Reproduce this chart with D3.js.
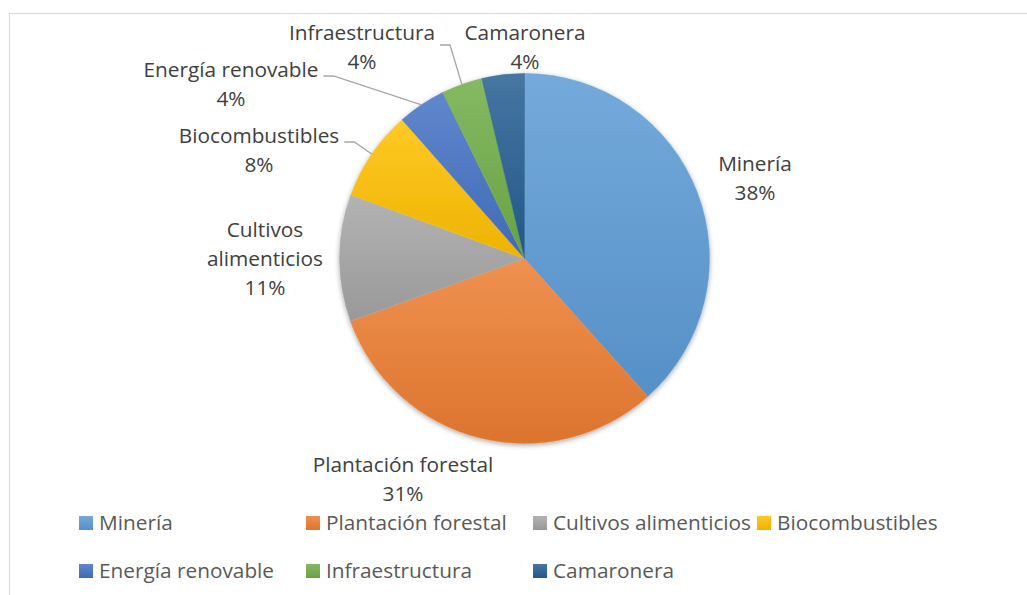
<!DOCTYPE html>
<html>
<head>
<meta charset="utf-8">
<script src="https://cdn.jsdelivr.net/npm/d3@7"></script>
<style>
  body { margin: 0; background: #fff; }
  text { font-family: "Open Sans", sans-serif; }
</style>
</head>
<body>
<div id="chart"></div>
<script>
"use strict";
// slice data, clockwise from 12 o'clock
var categories = ["Minería", "Plantación forestal", "Cultivos alimenticios", "Biocombustibles",
  "Energía renovable", "Infraestructura", "Camaronera"];
var values = [38.4, 31.1, 11.1, 7.9, 4.2, 3.6, 3.7];
var colors = ["#5B9BD5", "#ED7D31", "#A5A5A5", "#FFC000", "#4472C4", "#70AD47", "#255E91"];

// data label layout: lines of the name, centre of the label, leader line or not
var labelLines = [["Minería"], ["Plantación forestal"], ["Cultivos", "alimenticios"], ["Biocombustibles"],
  ["Energía renovable"], ["Infraestructura"], ["Camaronera"]];
var labelPos = [[755, 164], [403, 465], [265, 230], [259, 136], [231, 70], [362, 33], [525, 33]];
var hasLeader = [false, false, false, true, true, true, false];

var w = 1027, h = 595;
var cx = 524.5, cy = 258.5, rad = 185;
var fontSize = "20.8px";

var svg = d3.select("#chart").append("svg")
  .attr("width", w)
  .attr("height", h);

// chart frame
svg.append("rect")
  .attr("x", 9.5).attr("y", 13.5)
  .attr("width", w + 20).attr("height", h + 20)
  .attr("fill", "#fff")
  .attr("stroke", "#d9d9d9");

var defs = svg.append("defs");
colors.forEach(function(c, i) {
  var g = defs.append("linearGradient")
    .attr("id", "grad" + i)
    .attr("x1", 0).attr("y1", 0).attr("x2", 0).attr("y2", 1);
  g.append("stop").attr("offset", "0%").attr("stop-color", d3.interpolateRgb(c, "#fff")(0.15));
  g.append("stop").attr("offset", "100%").attr("stop-color", d3.interpolateRgb(c, "#000")(0.07));
});
var shadow = defs.append("filter").attr("id", "shadow")
  .attr("x", "-10%").attr("y", "-10%").attr("width", "120%").attr("height", "120%");
shadow.append("feDropShadow")
  .attr("dx", 0).attr("dy", 1.5)
  .attr("stdDeviation", 2.5)
  .attr("flood-color", "#000")
  .attr("flood-opacity", 0.35);

var pie = d3.pie().sort(null).value(function(d) { return d; });
var arcs = pie(values);
var total = d3.sum(values);
var arc = d3.arc().innerRadius(0).outerRadius(rad);

var g = svg.append("g").attr("transform", "translate(" + cx + "," + cy + ")");
var shadowLayer = g.append("g").attr("filter", "url(#shadow)");
shadowLayer.selectAll(".slice")
  .data(arcs)
  .enter()
  .append("path")
  .attr("class", "slice")
  .attr("d", arc)
  .attr("fill", function(d, i) { return "url(#grad" + i + ")"; })
  .attr("stroke", function(d, i) { return d3.interpolateRgb(colors[i], "#fff")(0.1); })
  .attr("stroke-width", 0.5);

var leaderLayer = svg.append("g");

// data labels
var lh = 29;
arcs.forEach(function(d, i) {
  var p = labelPos[i];
  var t = svg.append("text")
    .attr("text-anchor", "middle")
    .attr("fill", "#404040")
    .style("font-size", fontSize);
  var lines = labelLines[i].concat([Math.round(d.value / total * 100) + "%"]);
  var first = null;
  lines.forEach(function(s, j) {
    var ts = t.append("tspan")
      .attr("x", p[0])
      .attr("y", p[1] + j * lh)
      .attr("dy", "0.35em")
      .text(s);
    if (j === 0) first = ts;
  });

  // leader line from the right end of the name to the slice edge
  if (!hasLeader[i]) return;
  var tw = first.node().getComputedTextLength();
  var a = (d.startAngle + d.endAngle) / 2;
  var ex = cx + Math.sin(a) * rad, ey = cy - Math.cos(a) * rad;
  var sx = p[0] + tw / 2 + 5;
  var sy = i === 5 ? p[1] + 12 : p[1] + 6;
  var mx = sx + 10;
  leaderLayer.append("path")
    .attr("d", "M" + sx + "," + sy + "L" + mx + "," + sy + "L" + ex + "," + ey)
    .attr("fill", "none")
    .attr("stroke", "#a6a6a6")
    .attr("stroke-width", 1.3);
});

// legend
var legX = [79, 306, 533, 757];
var legY = [523, 571];
var leg = svg.append("g");
categories.forEach(function(c, i) {
  var x = legX[i % 4], y = legY[Math.floor(i / 4)];
  leg.append("rect")
    .attr("x", x).attr("y", y - 7)
    .attr("width", 14).attr("height", 14)
    .attr("fill", "url(#grad" + i + ")");
  leg.append("text")
    .attr("x", x + 20).attr("y", y)
    .attr("dy", "0.35em")
    .attr("fill", "#595959")
    .style("font-size", fontSize)
    .text(c);
});
</script>
</body>
</html>
